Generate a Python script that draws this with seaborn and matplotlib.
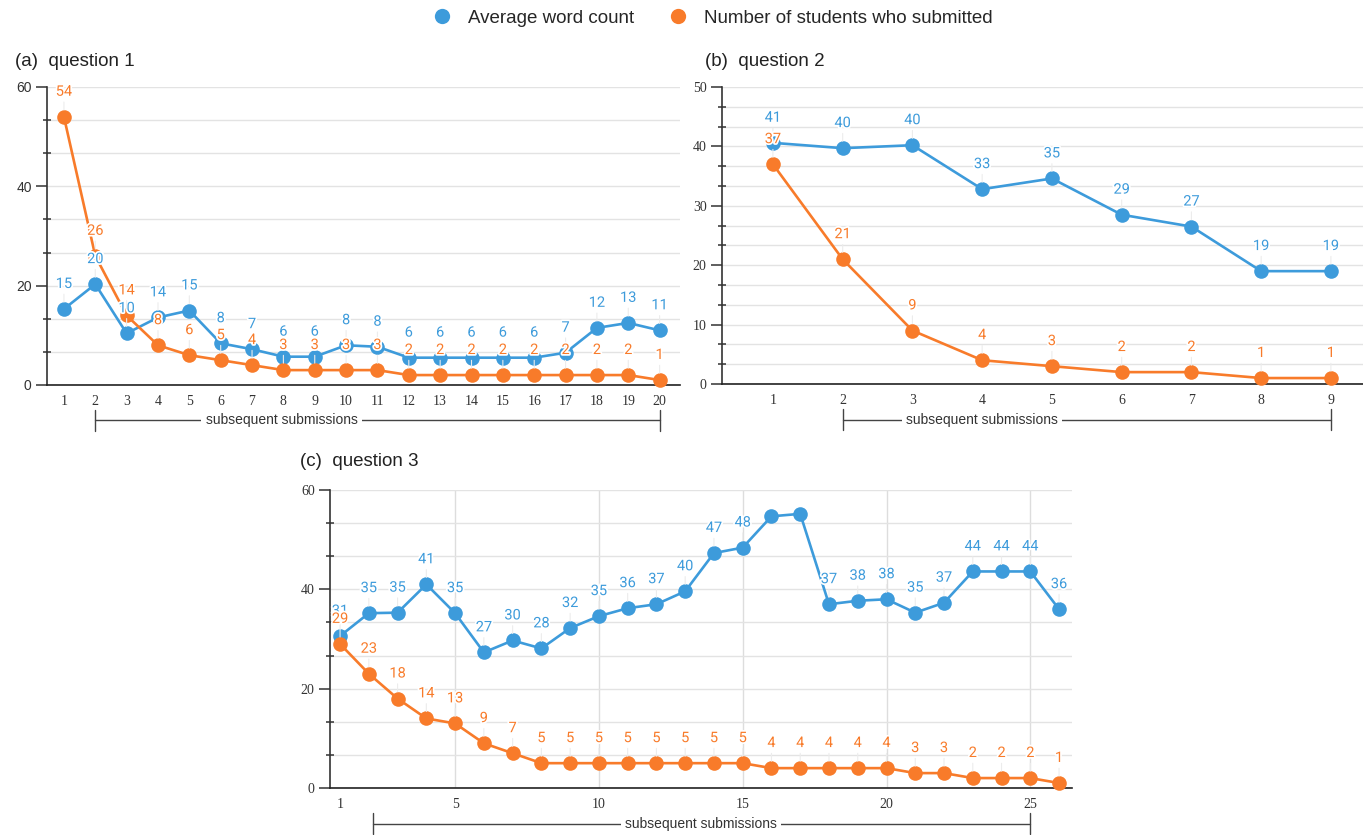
import numpy as np
import pandas as pd
import matplotlib
matplotlib.use("Agg")
import matplotlib.pyplot as plt
import matplotlib.patheffects as pe
from matplotlib.lines import Line2D
from matplotlib.ticker import MultipleLocator
import seaborn as sns

# ---- data ----
series_names = ["Average word count", "Number of students who submitted"]

q1_x = list(range(1, 21))
q1_words = [15.3, 20.3, 10.4, 13.6, 15.0, 8.4, 7.2, 5.7, 5.7, 8.0,
            7.7, 5.5, 5.5, 5.5, 5.5, 5.5, 6.5, 11.5, 12.5, 11.0]
q1_students = [54, 26, 14, 8, 6, 5, 4, 3, 3, 3,
               3, 2, 2, 2, 2, 2, 2, 2, 2, 1]

q2_x = list(range(1, 10))
q2_words = [40.6, 39.7, 40.2, 32.8, 34.6, 28.5, 26.5, 19.0, 19.0]
q2_students = [37, 21, 9, 4, 3, 2, 2, 1, 1]

q3_x = list(range(1, 27))
q3_words = [30.6, 35.2, 35.3, 41.0, 35.2, 27.3, 29.7, 28.1, 32.2, 34.6,
            36.2, 37.0, 39.6, 47.3, 48.4, 54.7, 55.2, 37.0, 37.7, 38.0,
            35.3, 37.3, 43.6, 43.6, 43.6, 36.0]
q3_students = [29, 23, 18, 14, 13, 9, 7, 5, 5, 5, 5, 5, 5, 5, 5,
               4, 4, 4, 4, 4, 3, 3, 2, 2, 2, 1]
q3_unlabeled = [16, 17]

BLUE = "#3d9bdb"
ORANGE = "#f87b2a"
palette = {series_names[0]: BLUE, series_names[1]: ORANGE}

sns.set_theme(style="white")
plt.rcParams["font.family"] = ["Liberation Sans", "DejaVu Sans"]

fig = plt.figure(figsize=(13.63, 8.35), dpi=100)
W, H = 1363, 835


def px_axes(left, right, top, bottom):
    return fig.add_axes([left / W, 1 - bottom / H, (right - left) / W, (bottom - top) / H])


def draw_panel(ax, x, words, students, ymax, ystep, xlim, xticks, title, title_xy,
               bracket, unlabeled=(), sans_y=False, vgrid=False):
    df = pd.DataFrame({
        "x": list(x) * 2,
        "value": list(words) + list(students),
        "series": [series_names[0]] * len(x) + [series_names[1]] * len(x),
    })
    sns.lineplot(data=df, x="x", y="value", hue="series", palette=palette,
                 marker="o", markersize=10.5, markeredgewidth=0, linewidth=1.9,
                 legend=False, ax=ax, clip_on=False, zorder=3)

    # data labels with faint stems
    for vals, col in [(words, BLUE), (students, ORANGE)]:
        for xi, v in zip(x, vals):
            if xi in unlabeled and col == BLUE:
                continue
            ax.annotate(str(int(v + 0.5)), (xi, v), xytext=(0, 13),
                        textcoords="offset points", ha="center", va="bottom",
                        fontsize=10.5, color=col, family=["Roboto", "DejaVu Sans"],
                        zorder=5,
                        path_effects=[pe.withStroke(linewidth=2.5, foreground="white")],
                        arrowprops=dict(arrowstyle="-", color="#ececec", lw=0.8,
                                        shrinkA=0, shrinkB=5))

    ax.set_xlim(*xlim)
    ax.set_ylim(0, ymax)
    ax.set_xticks(xticks)
    ax.yaxis.set_major_locator(MultipleLocator(ystep))
    ax.yaxis.set_minor_locator(MultipleLocator(ystep / 3))
    ax.grid(True, axis="y", which="both", color="#e3e3e3", linewidth=1.0, zorder=0)
    if vgrid:
        ax.grid(True, axis="x", which="major", color="#dddddd", linewidth=1.0, zorder=0)
        ax.get_xgridlines()[0].set_visible(False)
    ax.set_axisbelow(True)
    ax.set_xlabel("")
    ax.set_ylabel("")
    for s in ["top", "right"]:
        ax.spines[s].set_visible(False)
    ax.spines["left"].set_color("#333333")
    ax.spines["left"].set_linewidth(1.2)
    ax.spines["bottom"].set_color("#222222")
    ax.spines["bottom"].set_linewidth(1.2)
    ax.tick_params(axis="y", which="major", direction="out", length=8, width=1.1,
                   color="#333333", labelsize=10, labelcolor="#333333", pad=3, left=True)
    ax.tick_params(axis="y", which="minor", direction="inout", length=6, width=1.1,
                   color="#333333", left=True)
    ax.tick_params(axis="x", which="major", length=0, labelsize=10,
                   labelcolor="#333333", pad=7)
    for lab in ax.get_xticklabels():
        lab.set_family(["Liberation Serif", "DejaVu Serif"])
    for lab in ax.get_yticklabels():
        lab.set_family(["Liberation Sans"] if sans_y else ["Liberation Serif", "DejaVu Serif"])

    fig.text(title_xy[0] / W, 1 - title_xy[1] / H, title, fontsize=13.5,
             ha="left", va="center", color="#222222")

    # "subsequent submissions" bracket below the axis
    x0, x1, xm, yb = bracket
    tr = ax.get_xaxis_transform()
    ax.plot([x0, x1], [yb, yb], transform=tr, color="#444444", lw=1.0, clip_on=False)
    for xe in (x0, x1):
        ax.plot([xe, xe], [yb - 0.035, yb + 0.035], transform=tr, color="#444444",
                lw=1.0, clip_on=False)
    ax.text(xm, yb, "subsequent submissions", transform=tr, ha="center", va="center",
            fontsize=10, color="#333333",
            bbox=dict(facecolor="white", edgecolor="none", pad=3))


ax_a = px_axes(47, 680, 87, 385)
draw_panel(ax_a, q1_x, q1_words, q1_students, 60, 20, (0.46, 20.65), q1_x,
           "(a)  question 1", (15, 61), (2, 20, 7.94, -0.118), sans_y=True)

ax_b = px_axes(722, 1363, 87, 384)
draw_panel(ax_b, q2_x, q2_words, q2_students, 50, 10, (0.27, 9.46), q2_x,
           "(b)  question 2", (705, 62), (2, 9, 4.0, -0.12))

ax_c = px_axes(330, 1072, 490, 788)
draw_panel(ax_c, q3_x, q3_words, q3_students, 60, 20, (0.65, 26.45),
           [1, 5, 10, 15, 20, 25], "(c)  question 3", (300, 462),
           (2.15, 25, 13.56, -0.12), unlabeled=q3_unlabeled, vgrid=True)

handles = [Line2D([], [], marker="o", linestyle="none", markersize=11,
                  markeredgewidth=0, color=c) for c in (BLUE, ORANGE)]
fig.legend(handles, series_names, loc="center", bbox_to_anchor=(708 / W, 1 - 18 / H),
           ncol=2, frameon=False, fontsize=13.5, handletextpad=0.4, columnspacing=1.3)

fig.savefig("out.png", dpi=100, facecolor="white")
